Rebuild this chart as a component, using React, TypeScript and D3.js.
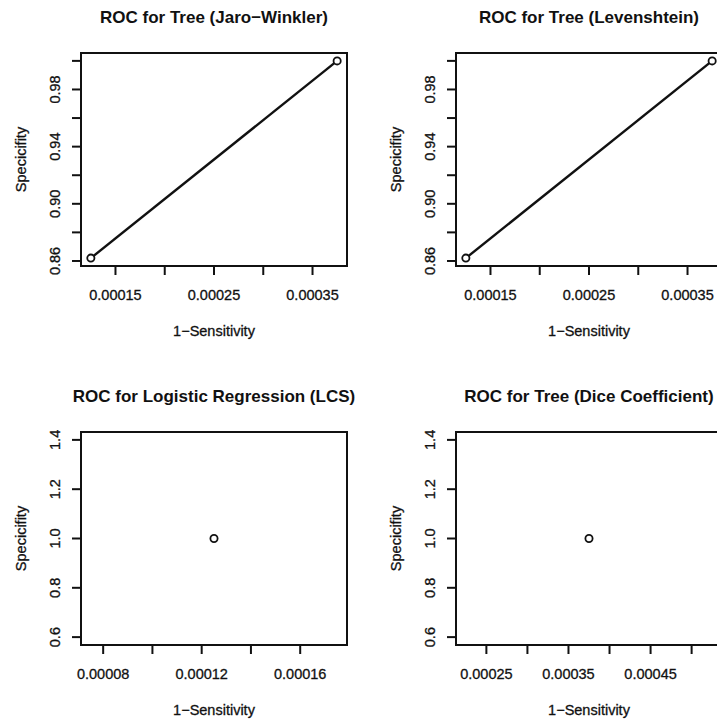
import React, { useEffect, useRef } from 'react';
import * as d3 from 'd3';

// ROC points (x = 1-Sensitivity, y = Specificity)
const jaroX = [0.000125, 0.000375];
const jaroY = [0.862, 1.0];
const levX = [0.000125, 0.000375];
const levY = [0.862, 1.0];
const lcsX = [0.000125];
const lcsY = [1.0];
const diceX = [0.000375];
const diceY = [1.0];

const titles = [
    'ROC for Tree (Jaro\u2212Winkler)',
    'ROC for Tree (Levenshtein)',
    'ROC for Logistic Regression (LCS)',
    'ROC for Tree (Dice Coefficient)',
];

const xTicksTop = [0.00015, 0.0002, 0.00025, 0.0003, 0.00035];
const xLabelsTop = ['0.00015', '', '0.00025', '', '0.00035'];
const yTicksTop = [0.86, 0.88, 0.9, 0.92, 0.94, 0.96, 0.98, 1.0];
const yLabelsTop = ['0.86', '', '0.90', '', '0.94', '', '0.98', ''];

const xTicksLcs = [0.00008, 0.0001, 0.00012, 0.00014, 0.00016];
const xLabelsLcs = ['0.00008', '', '0.00012', '', '0.00016'];
const xTicksDice = [0.00025, 0.0003, 0.00035, 0.0004, 0.00045, 0.0005];
const xLabelsDice = ['0.00025', '', '0.00035', '', '0.00045', ''];
const yTicksBottom = [0.6, 0.8, 1.0, 1.2, 1.4];
const yLabelsBottom = ['0.6', '0.8', '1.0', '1.2', '1.4'];

const FONT = '"Liberation Sans", Arial, Helvetica, sans-serif';
const INK = '#111';

// R style axis range: pad 4%, single value gets +-40% first
const rRange = (vals: number[]) => {
    let lo = d3.min(vals) as number;
    let hi = d3.max(vals) as number;
    if (lo === hi) {
        const d = Math.abs(lo) * 0.4;
        lo -= d;
        hi += d;
    }
    const pad = (hi - lo) * 0.04;
    return [lo - pad, hi + pad];
};

const panels = [
    { x: jaroX, y: jaroY, title: titles[0], xt: xTicksTop, xl: xLabelsTop, yt: yTicksTop, yl: yLabelsTop, col: 0, row: 0 },
    { x: levX, y: levY, title: titles[1], xt: xTicksTop, xl: xLabelsTop, yt: yTicksTop, yl: yLabelsTop, col: 1, row: 0 },
    { x: lcsX, y: lcsY, title: titles[2], xt: xTicksLcs, xl: xLabelsLcs, yt: yTicksBottom, yl: yLabelsBottom, col: 0, row: 1 },
    { x: diceX, y: diceY, title: titles[3], xt: xTicksDice, xl: xLabelsDice, yt: yTicksBottom, yl: yLabelsBottom, col: 1, row: 1 },
];

const App = () => {
    const svgRef = useRef<SVGSVGElement>(null);

    useEffect(() => {
        const svg = d3.select(svgRef.current);
        svg.selectAll('*').remove();

        svg.append('rect').attr('width', 717).attr('height', 719).attr('fill', '#fff');

        panels.forEach(p => {
            const ox = p.col * 375;
            const oy = p.row * 379;
            const left = ox + 81;
            const right = ox + 347;
            const top = oy + 53;
            const bottom = oy + 266;

            const x = d3.scaleLinear().domain(rRange(p.x)).range([left, right]);
            const y = d3.scaleLinear().domain(rRange(p.y)).range([bottom, top]);

            const g = svg.append('g');

            // title
            g.append('text')
                .attr('x', (left + right) / 2)
                .attr('y', oy + 23)
                .attr('text-anchor', 'middle')
                .attr('font-family', FONT)
                .attr('font-weight', 'bold')
                .attr('font-size', 17)
                .attr('fill', INK)
                .text(p.title);

            // x ticks
            g.selectAll('.xt')
                .data(p.xt)
                .enter()
                .append('line')
                .attr('x1', d => x(d))
                .attr('x2', d => x(d))
                .attr('y1', bottom)
                .attr('y2', bottom + 9)
                .attr('stroke', INK)
                .attr('stroke-width', 2);

            g.selectAll('.xl')
                .data(p.xt)
                .enter()
                .append('text')
                .attr('x', d => x(d))
                .attr('y', bottom + 34)
                .attr('text-anchor', 'middle')
                .attr('font-family', FONT)
                .attr('font-size', 14.5)
                .attr('fill', INK)
                .attr('stroke', INK)
                .attr('stroke-width', 0.3)
                .text((d, i) => p.xl[i]);

            // y ticks
            g.selectAll('.yt')
                .data(p.yt)
                .enter()
                .append('line')
                .attr('x1', left - 9)
                .attr('x2', left)
                .attr('y1', d => y(d))
                .attr('y2', d => y(d))
                .attr('stroke', INK)
                .attr('stroke-width', 2);

            g.selectAll('.yl')
                .data(p.yt)
                .enter()
                .append('text')
                .attr('transform', d => `translate(${ox + 60},${y(d)}) rotate(-90)`)
                .attr('text-anchor', 'middle')
                .attr('font-family', FONT)
                .attr('font-size', 14.5)
                .attr('fill', INK)
                .attr('stroke', INK)
                .attr('stroke-width', 0.3)
                .text((d, i) => p.yl[i]);

            // axis titles
            g.append('text')
                .attr('x', (left + right) / 2)
                .attr('y', bottom + 70)
                .attr('text-anchor', 'middle')
                .attr('font-family', FONT)
                .attr('font-size', 14.5)
                .attr('fill', INK)
                .attr('stroke', INK)
                .attr('stroke-width', 0.3)
                .text('1\u2212Sensitivity');

            g.append('text')
                .attr('transform', `translate(${ox + 26},${(top + bottom) / 2}) rotate(-90)`)
                .attr('text-anchor', 'middle')
                .attr('font-family', FONT)
                .attr('font-size', 14.5)
                .attr('fill', INK)
                .attr('stroke', INK)
                .attr('stroke-width', 0.3)
                .text('Specicifity');

            // data
            const pts = p.x.map((v, i) => [v, p.y[i]] as [number, number]);
            if (pts.length > 1) {
                g.append('path')
                    .datum(pts)
                    .attr('d', d3.line<[number, number]>().x(d => x(d[0])).y(d => y(d[1])))
                    .attr('fill', 'none')
                    .attr('stroke', INK)
                    .attr('stroke-width', 2.4);
            }
            g.selectAll('.pt')
                .data(pts)
                .enter()
                .append('circle')
                .attr('cx', d => x(d[0]))
                .attr('cy', d => y(d[1]))
                .attr('r', 3.6)
                .attr('fill', '#fff')
                .attr('stroke', INK)
                .attr('stroke-width', 1.8);

            // box
            g.append('rect')
                .attr('x', left)
                .attr('y', top)
                .attr('width', right - left)
                .attr('height', bottom - top)
                .attr('fill', 'none')
                .attr('stroke', INK)
                .attr('stroke-width', 2);
        });
    }, []);

    return (
        <svg
            ref={svgRef}
            width={717}
            height={719}
            style={{ position: 'absolute', left: 0, top: 0, display: 'block' }}
        />
    );
};

export default App;
